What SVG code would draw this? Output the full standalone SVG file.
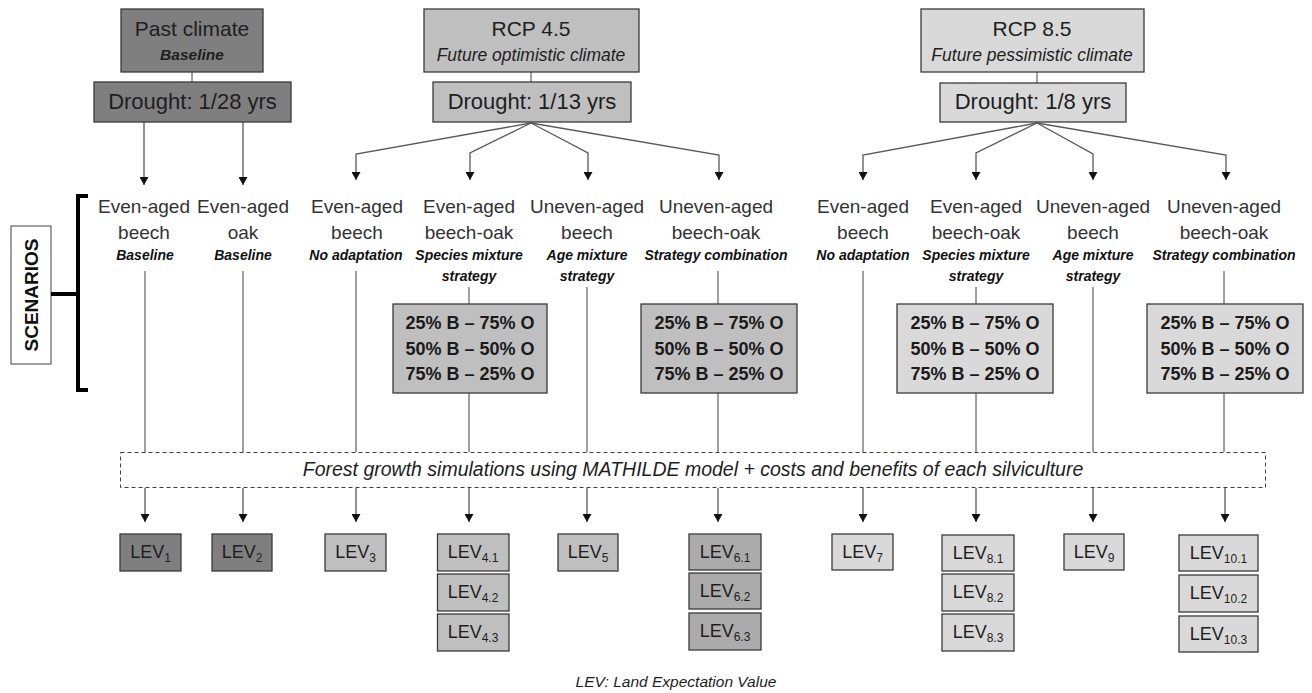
<svg xmlns="http://www.w3.org/2000/svg" width="1312" height="693" viewBox="0 0 1312 693">
<defs>
<marker id="ah" markerWidth="8" markerHeight="9" refX="8" refY="4.5" orient="auto" markerUnits="userSpaceOnUse"><path d="M0,0 L8,4.5 L0,9 z" fill="#111"/></marker>
<style>
text{font-family:"Liberation Sans",Arial,sans-serif;fill:#1e1e1e;text-anchor:middle}
.box{stroke:#3a3a3a;stroke-width:1.3}
.dark{fill:#7f7f7f}
.mid{fill:#bfbfbf}
.mid2{fill:#ababab}
.light{fill:#d9d9d9}
.h1{font-size:21px}
.dr{font-size:22px}
.sub{font-size:17.5px;font-style:italic}
.subb{font-size:15.5px;font-style:italic;font-weight:bold}
.lab{font-size:19px;fill:#333}
.st{font-size:14px;font-style:italic;font-weight:bold;fill:#111}
.mix{font-size:18px;font-weight:bold;fill:#1a1a1a}
.lev{font-size:18px}
.ls{font-size:12px}
.ln{stroke:#404040;stroke-width:1;fill:none}
.fan{stroke:#595959;stroke-width:1.3;fill:none}
.arr{stroke:#262626;stroke-width:1;fill:none;marker-end:url(#ah)}
</style>
</defs>
<rect width="1312" height="693" fill="#fff"/>

<g id="connectors">
<line class="ln" x1="192" y1="72" x2="192" y2="82"/>
<line class="ln" x1="531" y1="72" x2="531" y2="82"/>
<line class="ln" x1="1037" y1="72" x2="1037" y2="83"/>
<line class="arr" x1="144" y1="122" x2="144" y2="185"/>
<line class="arr" x1="243" y1="122" x2="243" y2="185"/>
<polyline class="fan" points="531,123 356,154 356,180" marker-end="url(#ah)"/>
<polyline class="fan" points="531,123 470,153 470,180" marker-end="url(#ah)"/>
<polyline class="fan" points="531,123 588,153 588,180" marker-end="url(#ah)"/>
<polyline class="fan" points="531,123 719,155 719,180" marker-end="url(#ah)"/>
<polyline class="fan" points="1037,123 863,155 863,180" marker-end="url(#ah)"/>
<polyline class="fan" points="1037,123 976,153 976,180" marker-end="url(#ah)"/>
<polyline class="fan" points="1037,123 1093,154 1093,180" marker-end="url(#ah)"/>
<polyline class="fan" points="1037,123 1226,155 1226,180" marker-end="url(#ah)"/>
<line class="ln" x1="145" y1="271" x2="145" y2="452"/>
<line class="ln" x1="243" y1="271" x2="243" y2="452"/>
<line class="ln" x1="356" y1="271" x2="356" y2="452"/>
<line class="ln" x1="469" y1="287" x2="469" y2="304"/>
<line class="ln" x1="469" y1="393" x2="469" y2="452"/>
<line class="ln" x1="587" y1="287" x2="587" y2="452"/>
<line class="ln" x1="718" y1="271" x2="718" y2="304"/>
<line class="ln" x1="718" y1="393" x2="718" y2="452"/>
<line class="ln" x1="863" y1="271" x2="863" y2="452"/>
<line class="ln" x1="976" y1="287" x2="976" y2="304"/>
<line class="ln" x1="976" y1="393" x2="976" y2="452"/>
<line class="ln" x1="1093" y1="287" x2="1093" y2="452"/>
<line class="ln" x1="1224" y1="271" x2="1224" y2="304"/>
<line class="ln" x1="1224" y1="393" x2="1224" y2="452"/>
<line class="arr" x1="145" y1="488" x2="145" y2="522"/>
<line class="arr" x1="243" y1="488" x2="243" y2="522"/>
<line class="arr" x1="356" y1="488" x2="356" y2="522"/>
<line class="arr" x1="469" y1="488" x2="469" y2="522"/>
<line class="arr" x1="587" y1="488" x2="587" y2="522"/>
<line class="arr" x1="718" y1="488" x2="718" y2="522"/>
<line class="arr" x1="863" y1="488" x2="863" y2="522"/>
<line class="arr" x1="976" y1="488" x2="976" y2="522"/>
<line class="arr" x1="1093" y1="488" x2="1093" y2="522"/>
<line class="arr" x1="1225" y1="488" x2="1225" y2="522"/>
</g>

<g id="past-climate">
<rect class="box dark" x="121" y="9" width="142" height="63"/>
<text class="h1" x="192" y="36">Past climate</text>
<text class="subb" x="192" y="60">Baseline</text>
</g>
<g id="drought-past">
<rect class="box dark" x="94" y="82" width="197" height="40"/>
<text class="dr" x="192.5" y="109">Drought: 1/28 yrs</text>
</g>
<g id="rcp45">
<rect class="box mid" x="424" y="9" width="215" height="63"/>
<text class="h1" x="531" y="36">RCP 4.5</text>
<text class="sub" x="531" y="61">Future optimistic climate</text>
</g>
<g id="drought-45">
<rect class="box mid" x="433" y="82" width="198" height="40"/>
<text class="dr" x="532" y="109">Drought: 1/13 yrs</text>
</g>
<g id="rcp85">
<rect class="box light" x="921" y="9" width="223" height="63"/>
<text class="h1" x="1032" y="36">RCP 8.5</text>
<text class="sub" x="1032" y="61">Future pessimistic climate</text>
</g>
<g id="drought-85">
<rect class="box light" x="940" y="83" width="186" height="39"/>
<text class="dr" x="1033" y="109">Drought: 1/8 yrs</text>
</g>

<g id="scenarios-label">
<rect x="11" y="226" width="40" height="138" fill="#fff" stroke="#404040" stroke-width="1"/>
<text x="0" y="0" transform="translate(38,295) rotate(-90)" style="font-size:19px;font-weight:bold;fill:#111">SCENARIOS</text>
<path d="M88,196 H78 V390 H88 M51,294 H78" fill="none" stroke="#000" stroke-width="4"/>
</g>

<g id="s1"><text class="lab" x="144" y="213">Even-aged</text><text class="lab" x="144" y="239">beech</text><text class="st" x="145" y="260">Baseline</text></g>
<g id="s2"><text class="lab" x="243" y="213">Even-aged</text><text class="lab" x="243" y="239">oak</text><text class="st" x="243" y="260">Baseline</text></g>
<g id="s3"><text class="lab" x="357" y="213">Even-aged</text><text class="lab" x="357" y="239">beech</text><text class="st" x="356" y="260">No adaptation</text></g>
<g id="s4"><text class="lab" x="469" y="213">Even-aged</text><text class="lab" x="469" y="239">beech-oak</text><text class="st" x="469" y="260">Species mixture</text><text class="st" x="469" y="281">strategy</text></g>
<g id="s5"><text class="lab" x="587" y="213">Uneven-aged</text><text class="lab" x="587" y="239">beech</text><text class="st" x="587" y="260">Age mixture</text><text class="st" x="587" y="281">strategy</text></g>
<g id="s6"><text class="lab" x="716" y="213">Uneven-aged</text><text class="lab" x="716" y="239">beech-oak</text><text class="st" x="716" y="260">Strategy combination</text></g>
<g id="s7"><text class="lab" x="863" y="213">Even-aged</text><text class="lab" x="863" y="239">beech</text><text class="st" x="863" y="260">No adaptation</text></g>
<g id="s8"><text class="lab" x="976" y="213">Even-aged</text><text class="lab" x="976" y="239">beech-oak</text><text class="st" x="976" y="260">Species mixture</text><text class="st" x="976" y="281">strategy</text></g>
<g id="s9"><text class="lab" x="1093" y="213">Uneven-aged</text><text class="lab" x="1093" y="239">beech</text><text class="st" x="1093" y="260">Age mixture</text><text class="st" x="1093" y="281">strategy</text></g>
<g id="s10"><text class="lab" x="1224" y="213">Uneven-aged</text><text class="lab" x="1224" y="239">beech-oak</text><text class="st" x="1224" y="260">Strategy combination</text></g>

<g id="mix4">
<rect class="box mid" x="393" y="304" width="154" height="89"/>
<text class="mix" x="470" y="329">25% B – 75% O</text><text class="mix" x="470" y="355">50% B – 50% O</text><text class="mix" x="470" y="380">75% B – 25% O</text>
</g>
<g id="mix6">
<rect class="box mid" x="641" y="304" width="156" height="89"/>
<text class="mix" x="719" y="329">25% B – 75% O</text><text class="mix" x="719" y="355">50% B – 50% O</text><text class="mix" x="719" y="380">75% B – 25% O</text>
</g>
<g id="mix8">
<rect class="box light" x="897" y="304" width="156" height="89"/>
<text class="mix" x="975" y="329">25% B – 75% O</text><text class="mix" x="975" y="355">50% B – 50% O</text><text class="mix" x="975" y="380">75% B – 25% O</text>
</g>
<g id="mix10">
<rect class="box light" x="1147" y="304" width="156" height="89"/>
<text class="mix" x="1225" y="329">25% B – 75% O</text><text class="mix" x="1225" y="355">50% B – 50% O</text><text class="mix" x="1225" y="380">75% B – 25% O</text>
</g>

<g id="simulation">
<rect x="120.5" y="452.5" width="1145" height="35" fill="#fff" stroke="#404040" stroke-width="1" stroke-dasharray="4 3"/>
<text x="693" y="476" style="font-size:19.5px;font-style:italic">Forest growth simulations using MATHILDE model + costs and benefits of each silviculture</text>
</g>

<g id="lev1"><rect class="box dark" x="120" y="534" width="61" height="37"/><text class="lev" x="150.5" y="558">LEV<tspan class="ls" dy="4">1</tspan></text></g>
<g id="lev2"><rect class="box dark" x="212" y="534" width="60" height="37"/><text class="lev" x="242" y="558">LEV<tspan class="ls" dy="4">2</tspan></text></g>
<g id="lev3"><rect class="box mid" x="325" y="534" width="61" height="37"/><text class="lev" x="355.5" y="558">LEV<tspan class="ls" dy="4">3</tspan></text></g>
<g id="lev4-1"><rect class="box mid" x="437.5" y="534" width="71.5" height="37"/><text class="lev" x="473" y="558">LEV<tspan class="ls" dy="4">4.1</tspan></text></g>
<g id="lev4-2"><rect class="box mid" x="437.5" y="574" width="71.5" height="37"/><text class="lev" x="473" y="598">LEV<tspan class="ls" dy="4">4.2</tspan></text></g>
<g id="lev4-3"><rect class="box mid" x="437.5" y="614" width="71.5" height="37"/><text class="lev" x="473" y="638">LEV<tspan class="ls" dy="4">4.3</tspan></text></g>
<g id="lev5"><rect class="box mid" x="558" y="534" width="60" height="37"/><text class="lev" x="588" y="558">LEV<tspan class="ls" dy="4">5</tspan></text></g>
<g id="lev6-1"><rect class="box mid2" x="689" y="534" width="72" height="36"/><text class="lev" x="725" y="558">LEV<tspan class="ls" dy="4">6.1</tspan></text></g>
<g id="lev6-2"><rect class="box mid2" x="689" y="573" width="72" height="36"/><text class="lev" x="725" y="597">LEV<tspan class="ls" dy="4">6.2</tspan></text></g>
<g id="lev6-3"><rect class="box mid2" x="689" y="613" width="72" height="37"/><text class="lev" x="725" y="637">LEV<tspan class="ls" dy="4">6.3</tspan></text></g>
<g id="lev7"><rect class="box light" x="832" y="534" width="61" height="36"/><text class="lev" x="862.5" y="558">LEV<tspan class="ls" dy="4">7</tspan></text></g>
<g id="lev8-1"><rect class="box light" x="942" y="535" width="72" height="36"/><text class="lev" x="978" y="559">LEV<tspan class="ls" dy="4">8.1</tspan></text></g>
<g id="lev8-2"><rect class="box light" x="942" y="574" width="72" height="37"/><text class="lev" x="978" y="598">LEV<tspan class="ls" dy="4">8.2</tspan></text></g>
<g id="lev8-3"><rect class="box light" x="942" y="614" width="72" height="37"/><text class="lev" x="978" y="638">LEV<tspan class="ls" dy="4">8.3</tspan></text></g>
<g id="lev9"><rect class="box light" x="1064" y="534" width="60" height="36"/><text class="lev" x="1094" y="558">LEV<tspan class="ls" dy="4">9</tspan></text></g>
<g id="lev10-1"><rect class="box light" x="1179" y="535" width="79" height="36"/><text class="lev" x="1218.5" y="559">LEV<tspan class="ls" dy="4">10.1</tspan></text></g>
<g id="lev10-2"><rect class="box light" x="1179" y="575" width="79" height="37"/><text class="lev" x="1218.5" y="599">LEV<tspan class="ls" dy="4">10.2</tspan></text></g>
<g id="lev10-3"><rect class="box light" x="1179" y="616" width="79" height="36"/><text class="lev" x="1218.5" y="640">LEV<tspan class="ls" dy="4">10.3</tspan></text></g>

<g id="footnote"><text x="676" y="687" style="font-size:15.5px;font-style:italic">LEV: Land Expectation Value</text></g>
</svg>
